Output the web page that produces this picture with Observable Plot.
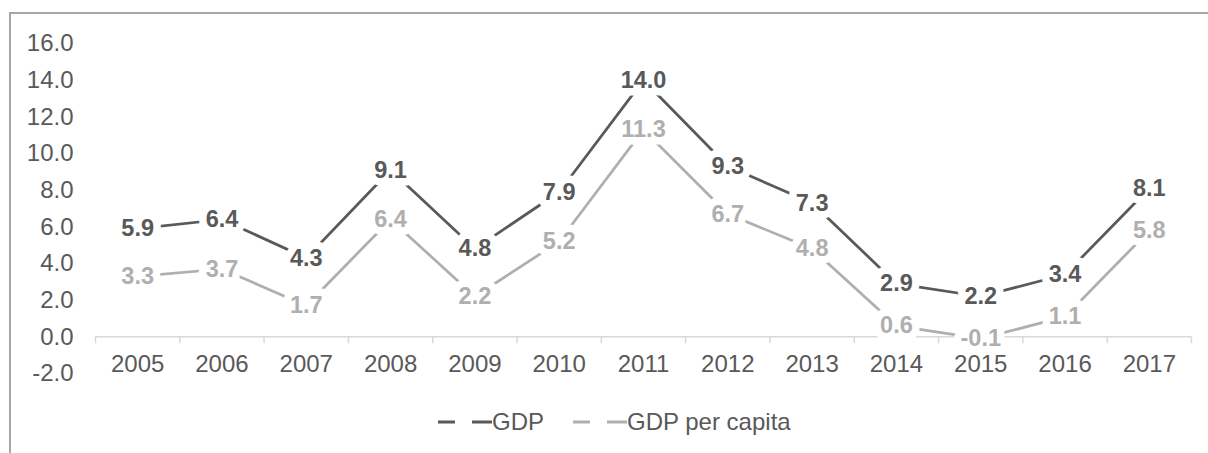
<!DOCTYPE html>
<html><head><meta charset="utf-8">
<script src="https://cdn.jsdelivr.net/npm/d3@7"></script>
<script src="https://cdn.jsdelivr.net/npm/@observablehq/plot@0.6"></script>
<style>
html,body{margin:0;padding:0;background:#fff;overflow:hidden;}
body{width:1208px;height:453px;position:relative;font-family:"Liberation Sans",Arial,sans-serif;}
#frame{position:absolute;left:9px;top:12px;width:1220px;height:470px;border-left:2px solid #a6a6a6;border-top:2px solid #a6a6a6;}
#chart{position:absolute;left:0;top:0;}
#legend{position:absolute;left:427px;top:394px;display:flex;align-items:center;font-size:24px;line-height:28px;color:#595959;white-space:nowrap;}
#legend .item{display:flex;align-items:center;margin-right:29px;}
#legend svg{display:block;}
</style></head><body>
<div id="frame"><div id="chart"></div><div id="legend"></div></div>
<script>
const years = [2005, 2006, 2007, 2008, 2009, 2010, 2011, 2012, 2013, 2014, 2015, 2016, 2017];
const gdp = [5.9, 6.4, 4.3, 9.1, 4.8, 7.9, 14.0, 9.3, 7.3, 2.9, 2.2, 3.4, 8.1];
const gdpPerCapita = [3.3, 3.7, 1.7, 6.4, 2.2, 5.2, 11.3, 6.7, 4.8, 0.6, -0.1, 1.1, 5.8];
const yTicks = [-2, 0, 2, 4, 6, 8, 10, 12, 14, 16];
const seriesNames = ["GDP", "GDP per capita"];
const seriesColors = ["#595959", "#afafaf"];

const seriesValues = [gdp, gdpPerCapita];
const rows = seriesNames.flatMap((s, k) => years.map((yr, i) => ({series: s, year: yr, value: seriesValues[k][i]})));
const boundaries = years.map(y => y - 0.5).concat([years[years.length - 1] + 0.5]);

const chart = Plot.plot({
  width: 1197,
  height: 390,
  marginLeft: 84,
  marginRight: 17,
  marginTop: 29,
  marginBottom: 31,
  style: {fontFamily: '"Liberation Sans", Arial, sans-serif', fontSize: "24px", color: "#595959", background: "transparent", overflow: "visible"},
  x: {domain: [years[0] - 0.5, years[years.length - 1] + 0.5], axis: null},
  y: {domain: [yTicks[0], yTicks[yTicks.length - 1]], ticks: yTicks, tickFormat: d => d.toFixed(1), tickSize: 0, tickPadding: 22, label: null},
  color: {domain: seriesNames, range: seriesColors},
  marks: [
    Plot.ruleY([0], {stroke: "#d9d9d9", strokeWidth: 1.5}),
    Plot.ruleX(boundaries, {x: d => d, y1: () => 0, y2: () => 0, insetBottom: -7, stroke: "#d9d9d9", strokeWidth: 1.5}),
    Plot.text(years, {x: d => d, y: () => 0, dy: 27, text: d => String(d), fill: "#595959"}),
    Plot.line(rows, {x: "year", y: "value", z: "series", stroke: "series", strokeWidth: 2.75}),
    Plot.text(rows.filter(d => d.series === seriesNames[1]), {x: "year", y: "value", text: d => d.value.toFixed(1), fill: seriesColors[1], stroke: "white", strokeWidth: 15, strokeLinejoin: "round", paintOrder: "stroke", fontWeight: "bold", fontSize: 23.5}),
    Plot.text(rows.filter(d => d.series === seriesNames[0]), {x: "year", y: "value", text: d => d.value.toFixed(1), fill: seriesColors[0], stroke: "white", strokeWidth: 15, strokeLinejoin: "round", paintOrder: "stroke", fontWeight: "bold", fontSize: 23.5})
  ]
});
document.getElementById("chart").appendChild(chart);

const legend = document.getElementById("legend");
seriesNames.forEach((name, k) => {
  const item = document.createElement("div");
  item.className = "item";
  item.innerHTML = `<svg width="54" height="8"><line x1="0" x2="54" y1="4" y2="4" stroke="${seriesColors[k]}" stroke-width="3" stroke-dasharray="17,17,20"/></svg><span>${name}</span>`;
  legend.appendChild(item);
});
</script>
</body></html>
